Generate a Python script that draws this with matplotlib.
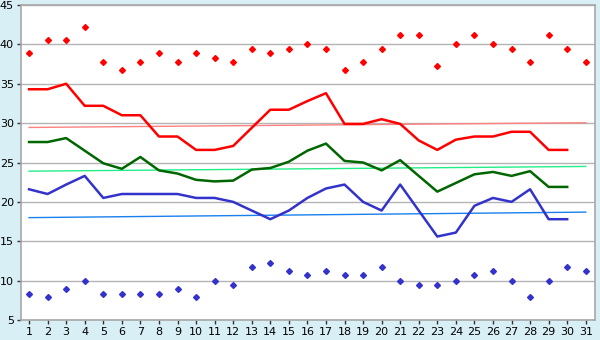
import matplotlib
matplotlib.use("Agg")
import matplotlib.pyplot as plt
import numpy as np

days = list(range(1, 32))

# record highs / lows (diamonds)
rec_max = [38.9, 40.6, 40.6, 42.2, 37.8, 36.7, 37.8, 38.9, 37.8, 38.9,
           38.3, 37.8, 39.4, 38.9, 39.4, 40.0, 39.4, 36.7, 37.8, 39.4,
           41.2, 41.2, 37.2, 40.0, 41.2, 40.0, 39.4, 37.8, 41.2, 39.4, 37.8]
rec_min = [8.3, 7.9, 8.9, 10.0, 8.3, 8.3, 8.3, 8.3, 8.9, 7.9,
           10.0, 9.4, 11.7, 12.2, 11.2, 10.7, 11.2, 10.7, 10.7, 11.7,
           10.0, 9.4, 9.4, 10.0, 10.7, 11.2, 10.0, 7.9, 10.0, 11.7, 11.2]

# averages (30 values, day 31 missing)
avg_max = [34.3, 34.3, 35.0, 32.2, 32.2, 31.0, 31.0, 28.3, 28.3, 26.6,
           26.6, 27.1, 29.4, 31.7, 31.7, 32.8, 33.8, 29.9, 29.9, 30.5,
           29.9, 27.8, 26.6, 27.9, 28.3, 28.3, 28.9, 28.9, 26.6, 26.6]
avg_mean = [27.6, 27.6, 28.1, 26.5, 24.9, 24.2, 25.7, 24.0, 23.6, 22.8,
            22.6, 22.7, 24.1, 24.3, 25.1, 26.5, 27.4, 25.2, 25.0, 24.0,
            25.3, 23.3, 21.3, 22.4, 23.5, 23.8, 23.3, 23.9, 21.9, 21.9]
avg_min = [21.6, 21.0, 22.2, 23.3, 20.5, 21.0, 21.0, 21.0, 21.0, 20.5,
           20.5, 20.0, 18.9, 17.8, 18.9, 20.5, 21.7, 22.2, 20.0, 18.9,
           22.2, 18.9, 15.6, 16.1, 19.5, 20.5, 20.0, 21.6, 17.8, 17.8]

# trend lines (start, end)
trend_max = [29.45, 30.05]
trend_mean = [23.9, 24.5]
trend_min = [18.0, 18.7]

fig = plt.figure(figsize=(6, 3.4), dpi=100)
fig.patch.set_facecolor("#d9eff6")
ax = fig.add_axes([0.0345, 0.0588, 0.9572, 0.9265])
ax.set_facecolor("white")

ax.plot([days[0], days[-1]], trend_max, color="#ff8080", lw=1.0)
ax.plot([days[0], days[-1]], trend_mean, color="#22ee88", lw=1.0)
ax.plot([days[0], days[-1]], trend_min, color="#1a80ee", lw=1.0)

ax.plot(days[:30], avg_max, color="#ff0000", lw=1.8)
ax.plot(days[:30], avg_mean, color="#006600", lw=1.8)
ax.plot(days[:30], avg_min, color="#3333cc", lw=1.8)

ax.plot(days, rec_max, "D", color="#ff0000", ms=3, ls="none")
ax.plot(days, rec_min, "D", color="#3333cc", ms=3, ls="none")

ax.set_xlim(0.55, 31.5)
ax.set_ylim(5, 45)
ax.set_xticks(days)
ax.set_yticks(range(5, 46, 5))
ax.yaxis.grid(True, color="#b4b4b4", lw=1.0)
ax.set_axisbelow(True)
for s in ax.spines.values():
    s.set_color("#a8a8a8")
    s.set_linewidth(1.2)
ax.tick_params(axis="both", labelsize=8, length=3, width=1, color="#333333", pad=2)

fig.savefig("out.png", dpi=100, facecolor=fig.get_facecolor())
